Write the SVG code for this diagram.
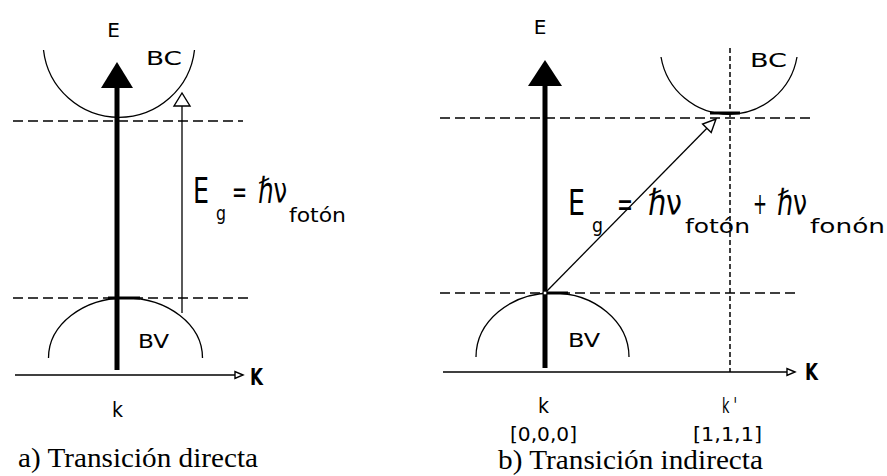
<svg xmlns="http://www.w3.org/2000/svg" width="887" height="476" viewBox="0 0 887 476">
<style>
.lbl{font-family:"DejaVu Sans","Liberation Sans",sans-serif;fill:#000;font-size:20px}
.fx{font-family:"DejaVu Sans","Liberation Sans",sans-serif;fill:#000}
.kb{font-family:"DejaVu Sans","Liberation Sans",sans-serif;font-weight:bold;font-size:23px;fill:#000}
.cap{font-family:"Liberation Serif","Times New Roman",serif;font-size:28px;fill:#000}
.dash{stroke:#000;stroke-width:1.5;stroke-dasharray:10 5;fill:none}
.vdash{stroke:#000;stroke-width:1.5;stroke-dasharray:5 3;fill:none}
.band{stroke:#000;stroke-width:1.3;fill:none}
.thin{stroke:#000;stroke-width:1.3;fill:none}
.thick{stroke:#000;stroke-width:5;fill:none}
.seg{stroke:#000;stroke-width:3;fill:none}
.hollow{fill:#fff;stroke:#000;stroke-width:1.4}
.solid{fill:#000;stroke:none}
</style>
<rect width="887" height="476" fill="#fff"/>

<!-- Diagram a -->
<g id="a-levels">
<line class="dash" x1="13" y1="121" x2="243" y2="121"/>
<line class="dash" x1="13" y1="298" x2="250" y2="298"/>
</g>
<g id="a-BC">
<path class="band" d="M43.5,50 A76,76 0 0 0 194.5,50"/>
<text class="lbl" x="146" y="65" textLength="36" lengthAdjust="spacingAndGlyphs">BC</text>
</g>
<g id="a-BV">
<path class="band" d="M48.5,358 A77,60 0 0 1 202.5,358"/>
<path class="seg" d="M108,298 H140"/>
<text class="lbl" x="138" y="348" textLength="31" lengthAdjust="spacingAndGlyphs">BV</text>
</g>
<g id="a-E"><text class="lbl" x="113.5" y="37" text-anchor="middle">E</text></g>
<g id="a-k"><text class="fx" font-size="21" x="112" y="417" textLength="11" lengthAdjust="spacingAndGlyphs">k</text></g>
<g id="a-K"><text class="kb" x="250" y="385" textLength="13" lengthAdjust="spacingAndGlyphs">K</text></g>
<g id="a-formula">
<text class="fx" font-size="36" x="193" y="203" textLength="16" lengthAdjust="spacingAndGlyphs">E</text>
<text class="fx" font-size="20" x="216" y="220" textLength="10" lengthAdjust="spacingAndGlyphs">g</text>
<text class="fx" font-size="30" x="232" y="202" textLength="15" lengthAdjust="spacingAndGlyphs">=</text>
<text class="fx" font-size="36" x="258" y="203" textLength="29" lengthAdjust="spacingAndGlyphs">ℏν</text>
<text class="fx" font-size="19" x="289" y="222" textLength="57" lengthAdjust="spacingAndGlyphs">fotón</text>
</g>
<g id="a-caption"><text class="cap" x="18" y="467" textLength="240" lengthAdjust="spacingAndGlyphs">a) Transición directa</text></g>

<!-- Diagram b -->
<g id="b-levels">
<line class="dash" x1="440" y1="118" x2="815" y2="118"/>
<line class="dash" x1="440" y1="293" x2="798" y2="293"/>
<line class="vdash" x1="730" y1="48" x2="730" y2="372"/>
</g>
<g id="b-BC">
<path class="band" d="M661,57 A69,69 0 0 0 797,57"/>
<path class="seg" d="M710,113 H740" stroke-width="2"/>
<text class="lbl" x="750" y="67" textLength="37" lengthAdjust="spacingAndGlyphs">BC</text>
</g>
<g id="b-BV">
<path class="band" d="M476,357 A76.5,64 0 0 1 629,357"/>
<path class="seg" d="M543,293 H568"/>
<text class="lbl" x="568" y="347" textLength="32" lengthAdjust="spacingAndGlyphs">BV</text>
</g>
<g id="b-E"><text class="lbl" x="540" y="34" text-anchor="middle">E</text></g>
<g id="b-k">
<text class="fx" font-size="21" x="538" y="413" textLength="11" lengthAdjust="spacingAndGlyphs">k</text>
<text class="lbl" font-size="19" x="510" y="441" textLength="67" lengthAdjust="spacingAndGlyphs">[0,0,0]</text>
</g>
<g id="b-kprime">
<text class="fx" font-size="21" x="722" y="413" textLength="15" lengthAdjust="spacingAndGlyphs">k '</text>
<text class="lbl" font-size="19" x="693" y="441" textLength="69" lengthAdjust="spacingAndGlyphs">[1,1,1]</text>
</g>
<g id="b-K"><text class="kb" x="805" y="380" textLength="13" lengthAdjust="spacingAndGlyphs">K</text></g>
<g id="b-formula">
<text class="fx" font-size="36" x="568" y="215" textLength="17" lengthAdjust="spacingAndGlyphs">E</text>
<text class="fx" font-size="20" x="592" y="232" textLength="11" lengthAdjust="spacingAndGlyphs">g</text>
<text class="fx" font-size="34" x="617" y="216" textLength="16" lengthAdjust="spacingAndGlyphs">=</text>
<text class="fx" font-size="36" x="648" y="215" textLength="34" lengthAdjust="spacingAndGlyphs">ℏν</text>
<text class="fx" font-size="19" x="685" y="233" textLength="65" lengthAdjust="spacingAndGlyphs">fotón</text>
<text class="fx" font-size="30" x="753" y="214" textLength="14" lengthAdjust="spacingAndGlyphs">+</text>
<text class="fx" font-size="36" x="777" y="215" textLength="30" lengthAdjust="spacingAndGlyphs">ℏν</text>
<text class="fx" font-size="19" x="810" y="233" textLength="75" lengthAdjust="spacingAndGlyphs">fonón</text>
</g>
<g id="b-caption"><text class="cap" x="498" y="469" textLength="265" lengthAdjust="spacingAndGlyphs">b) Transición indirecta</text></g>

<!-- Connectors -->
<g id="connectors">
<line class="thick" x1="117" y1="370" x2="117" y2="86"/>
<polygon class="solid" points="117,62 101,88 133,88"/>
<line class="thin" x1="182" y1="313" x2="182" y2="106"/>
<polygon class="hollow" points="182,93 174,106 190,106"/>
<line class="thin" x1="15" y1="375" x2="235" y2="375"/>
<polygon class="hollow" points="243,375 235,371.5 235,378.5"/>

<line class="thick" x1="545" y1="368" x2="545" y2="84"/>
<polygon class="solid" points="545,60 528,86 562,86"/>
<line class="thin" x1="545" y1="293" x2="706.9" y2="128.3"/>
<polygon class="hollow" points="716,119 711.2,132.5 702.6,124.1"/>
<circle cx="545" cy="293" r="2" fill="#fff" stroke="#000" stroke-width="1"/>
<line class="thin" x1="443" y1="372" x2="787" y2="372"/>
<polygon class="hollow" points="795,372 787,368.5 787,375.5"/>
</g>
</svg>
